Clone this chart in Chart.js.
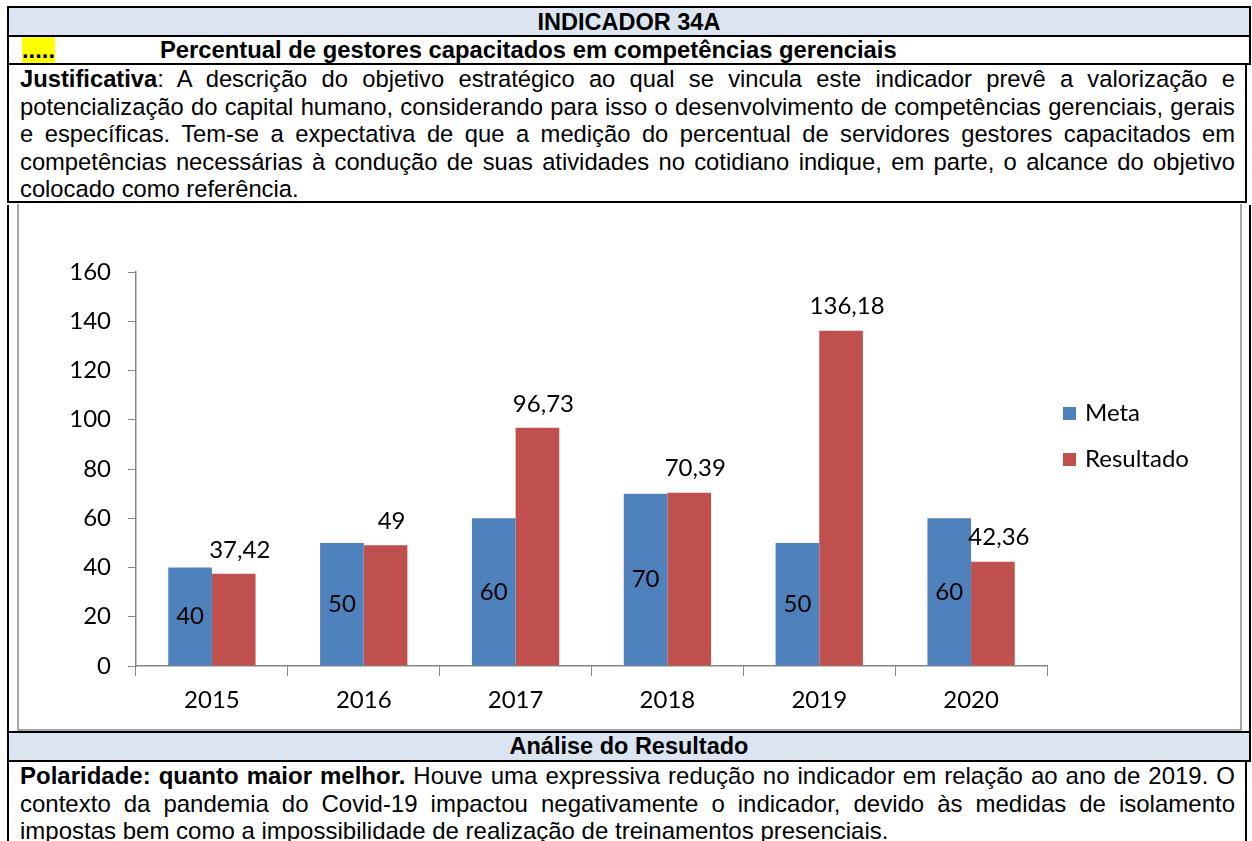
<!DOCTYPE html>
<html>
<head>
<meta charset="utf-8">
<script src="https://cdn.jsdelivr.net/npm/chart.js@4/dist/chart.umd.min.js"></script>
<style>
  body { margin: 0; background: #fff; width: 1252px; height: 841px; overflow: hidden; position: relative;
         font-family: "Liberation Sans", Arial, sans-serif; color: #000; }
  .row { position: absolute; left: 7px; width: 1240px; border-left: 2px solid #000; border-right: 2px solid #000;
         border-bottom: 2px solid #000; }
  .head { background: #dbe5f1; font-weight: bold; font-size: 23.5px; text-align: center; }
  .txt { font-size: 24px; line-height: 27.5px; text-align: justify; padding: 0 10px 0 11px; box-sizing: border-box; }
  #frame { position: absolute; left: 17px; top: 204px; width: 1221px; height: 525px; border: 2px solid #a6a6a6; border-top: none; }
  #wrap { position: absolute; left: 19px; top: 206px; width: 1221px; height: 524px; }
</style>
</head>
<body>
<div class="row head" style="top:6px;height:27px;line-height:29px;border-top:2px solid #000;">INDICADOR 34A</div>
<div class="row" style="top:37px;height:26px;font-size:23.8px;font-weight:bold;line-height:26px;">
  <span style="position:absolute;left:13px;top:0;height:26px;background:#ffff00;">.....</span>
  <span style="position:absolute;left:151px;top:0;">Percentual de gestores capacitados em competências gerenciais</span>
</div>
<div class="row txt" style="top:65px;height:138px;font-size:23.75px;"><b>Justificativa</b>: A descrição do objetivo estratégico ao qual se vincula este indicador prevê a valorização e potencialização do capital humano, considerando para isso o desenvolvimento de competências gerenciais, gerais e específicas. Tem-se a expectativa de que a medição do percentual de servidores gestores capacitados em competências necessárias à condução de suas atividades no cotidiano indique, em parte, o alcance do objetivo colocado como referência.</div>
<div class="row" style="top:205px;height:526px;"></div>
<div id="frame"></div>
<div id="wrap"><canvas id="myChart"></canvas></div>
<div class="row head" style="top:733px;height:27px;line-height:26px;">Análise do Resultado</div>
<div class="row txt" style="top:762px;height:120px;border-bottom:none;"><b>Polaridade: quanto maior melhor.</b> Houve uma expressiva redução no indicador em relação ao ano de 2019. O contexto da pandemia do Covid-19 impactou negativamente o indicador, devido às medidas de isolamento impostas bem como a impossibilidade de realização de treinamentos presenciais.</div>

<script>
/* dados do grafico */
let anos = ['2015', '2016', '2017', '2018', '2019', '2020'];
let meta = [40, 50, 60, 70, 50, 60];
let resultado = [37.42, 49, 96.73, 70.39, 136.18, 42.36];
let yMin = 0;
let yMax = 160;
let yStep = 20;

var chartFont = 'Lato, "Open Sans", sans-serif';
var fontSize = 24;

function fmt(v) {
  return String(v).replace('.', ',');
}

/* rotulos de valor: meta no meio da barra, resultado acima */
var valueLabels = {
  id: 'valueLabels',
  afterDatasetsDraw(chart) {
    var ctx = chart.ctx;
    ctx.save();
    ctx.font = fontSize + 'px ' + chartFont;
    ctx.fillStyle = '#000';
    ctx.textAlign = 'center';
    ctx.textBaseline = 'middle';
    chart.data.datasets.forEach(function (ds, i) {
      chart.getDatasetMeta(i).data.forEach(function (bar, j) {
        var y = i === 0 ? (bar.y + bar.base) / 2 : bar.y - 24;
        var x = i === 0 ? bar.x : bar.x + 6;
        ctx.fillText(fmt(ds.data[j]), x, y);
      });
    });
    ctx.restore();
  },
};

/* legenda a direita */
var sideLegend = {
  id: 'sideLegend',
  afterDraw(chart) {
    var ctx = chart.ctx;
    var a = chart.chartArea;
    ctx.save();
    ctx.font = fontSize + 'px ' + chartFont;
    ctx.textAlign = 'left';
    ctx.textBaseline = 'middle';
    chart.data.datasets.forEach(function (ds, i) {
      var y = a.top + 141 + i * 46;
      ctx.fillStyle = ds.backgroundColor;
      ctx.fillRect(a.right + 16, y - 6, 13, 13);
      ctx.fillStyle = '#000';
      ctx.fillText(ds.label, a.right + 38, y);
    });
    ctx.restore();
  },
};

var ctx = document.getElementById('myChart');

var myChart = new Chart(ctx, {
  type: 'bar',
  data: {
    labels: anos,
    datasets: [
      {
        label: 'Meta',
        data: meta,
        backgroundColor: '#4f81bd',
        categoryPercentage: 0.575,
        barPercentage: 1,
      },
      {
        label: 'Resultado',
        data: resultado,
        backgroundColor: '#c0504d',
        categoryPercentage: 0.575,
        barPercentage: 1,
      },
    ],
  },
  options: {
    maintainAspectRatio: false,
    responsive: true,
    animation: false,
    layout: {
      padding: { left: 37, right: 193, top: 66, bottom: 0 },
    },
    plugins: {
      legend: { display: false },
      tooltip: { enabled: false },
    },
    scales: {
      x: {
        grid: {
          display: true,
          drawOnChartArea: false,
          offset: true,
          tickLength: 10,
          color: '#868686',
        },
        border: { color: '#868686', width: 1.5 },
        ticks: {
          color: '#000',
          padding: 10,
          font: { family: chartFont, size: fontSize },
        },
        afterFit: function (scale) {
          scale.height = 64;
        },
      },
      y: {
        min: yMin,
        max: yMax,
        grid: {
          display: true,
          drawOnChartArea: false,
          tickLength: 8,
          color: '#868686',
        },
        border: { color: '#868686', width: 1.5 },
        ticks: {
          stepSize: yStep,
          color: '#000',
          padding: 17,
          font: { family: chartFont, size: fontSize },
        },
        afterFit: function (scale) {
          scale.width = 80;
        },
      },
    },
  },
  plugins: [valueLabels, sideLegend],
});
</script>
</body>
</html>
